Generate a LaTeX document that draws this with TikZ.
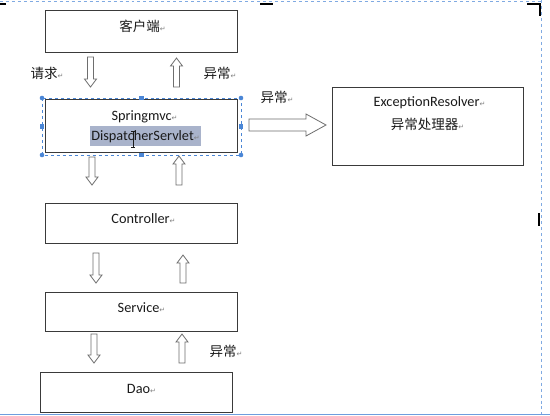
\documentclass[tikz,border=0pt]{standalone}
\usepackage{fontspec}
\setmainfont{Carlito}
\newfontfamily\cjk{Noto Sans CJK SC}
\newfontfamily\dejavu{DejaVu Sans}
\usetikzlibrary{calc}
\definecolor{selblue}{HTML}{4A86D6}
\definecolor{hilite}{HTML}{A9B3CB}
\definecolor{boxline}{HTML}{3A3A3A}
\definecolor{arrline}{HTML}{6E6E6E}
\definecolor{txt}{HTML}{1A1A1A}
\newcommand\rmk{{\dejavu\fontsize{7bp}{8bp}\selectfont\textcolor{gray}{↵}}}
\newcommand\cjkt[1]{{\cjk\fontsize{13.5bp}{16bp}\selectfont #1}}
\newcommand\downarr[3]{\draw[barrow] ({#1-3},#2) -- ({#1+3},#2) -- ({#1+3},{#3-8}) -- ({#1+6},{#3-8}) -- (#1,#3) -- ({#1-6},{#3-8}) -- ({#1-3},{#3-8}) -- cycle;}
\newcommand\uparr[3]{\draw[barrow] ({#1-3},#2) -- ({#1+3},#2) -- ({#1+3},{#3+8}) -- ({#1+6},{#3+8}) -- (#1,#3) -- ({#1-6},{#3+8}) -- ({#1-3},{#3+8}) -- cycle;}
\tikzset{
  box/.style={draw=boxline, line width=1bp, fill=white, inner sep=0pt, minimum width=191bp},
  lbl/.style={inner sep=0pt, text=txt, font=\fontsize{14.3bp}{16bp}\selectfont},
  barrow/.style={draw=arrline, line width=0.8bp, fill=white, line join=miter},
  handlec/.style={fill=selblue, draw=none},
  pagemark/.style={line width=2bp, black},
}
\begin{document}
\begin{tikzpicture}[x=1bp,y=-1bp]
\useasboundingbox (0,0) rectangle (550,415);
\fill[white] (0,0) rectangle (550,415);
% page decorations
\draw[selblue!70, dashed, line width=0.6bp] (0,1) -- (541.5,1);
\draw[selblue!70, dashed, line width=0.6bp] (541.5,0) -- (541.5,415);
\draw[selblue!80, line width=1bp] (0,414) -- (550,414);
\draw[pagemark] (0,4) -- (6,4);
\draw[pagemark] (260,4) -- (273,4);
\draw[pagemark] (527,4) -- (540,4) -- (540,16);
\draw[pagemark] (538.5,213) -- (538.5,226);
% boxes
\node[box, minimum height=42bp] (client) at (141.5,31) {};
\node[box, minimum height=53bp] (spring) at (141.5,125.5) {};
\node[box, minimum height=40bp] (ctrl) at (141.5,223) {};
\node[box, minimum height=39bp] (svc) at (141.5,311.5) {};
\node[box, minimum height=40bp] (dao) at (136.5,392) {};
\node[box, minimum height=78bp] (exc) at (427.5,126) {};
% selection frame
\draw[selblue, dashed, line width=0.6bp] (42,98) rectangle (241,155);
\foreach \p in {(42,98),(241,98),(42,155),(241,155)} \fill[handlec] \p circle (2.3);
\foreach \p in {(141.5,98),(42,126.5),(241,126.5),(141.5,155)} \fill[handlec] \p ++(-2.3,-2.3) rectangle ++(4.6,4.6);
% highlight
\fill[hilite] (90,126) rectangle (201,146);
% texts
\node[lbl] (tclient) at ($(client.north)+(1,17)$) {\cjkt{客户端}\rmk};
\node[lbl] (tspring1) at ($(spring.north)+(3,18)$) {Springmvc\rmk};
\node[lbl] (tspring2) at ($(spring.north)+(4,38)$) {DispatcherServlet\rmk};
\node[lbl] (tctrl) at ($(ctrl.north)+(2,16)$) {Controller\rmk};
\node[lbl] (tsvc) at ($(svc.north)+(0,16)$) {Service\rmk};
\node[lbl] (tdao) at ($(dao.north)+(5,17)$) {Dao\rmk};
\node[lbl] (texc1) at ($(exc.north)+(2,16)$) {ExceptionResolver\rmk};
\node[lbl] (texc2) at ($(exc.north)+(0,38)$) {\cjkt{异常处理器}\rmk};
\node[lbl] (lreq) at (47,73) {\cjkt{请求}\rmk};
\node[lbl] (lex1) at (220,73) {\cjkt{异常}\rmk};
\node[lbl] (lex2) at (277,97) {\cjkt{异常}\rmk};
\node[lbl] (lex3) at (226,351) {\cjkt{异常}\rmk};
% cursor
\draw[txt, line width=0.7bp] (133,131) -- (133,147) (131,131) -- (135,131) (131,147) -- (135,147);
% arrows
\downarr{90.5}{57}{87}
\uparr{176.5}{87}{58}
\downarr{92}{157}{185}
\uparr{179}{185}{156}
\downarr{96}{253}{283}
\uparr{183}{283}{255}
\downarr{94}{334}{363}
\uparr{182}{363}{334}
\draw[barrow] (249,119) -- (306,119) -- (306,114) -- (326,125) -- (306,136) -- (306,131) -- (249,131) -- cycle;
\end{tikzpicture}
\end{document}
